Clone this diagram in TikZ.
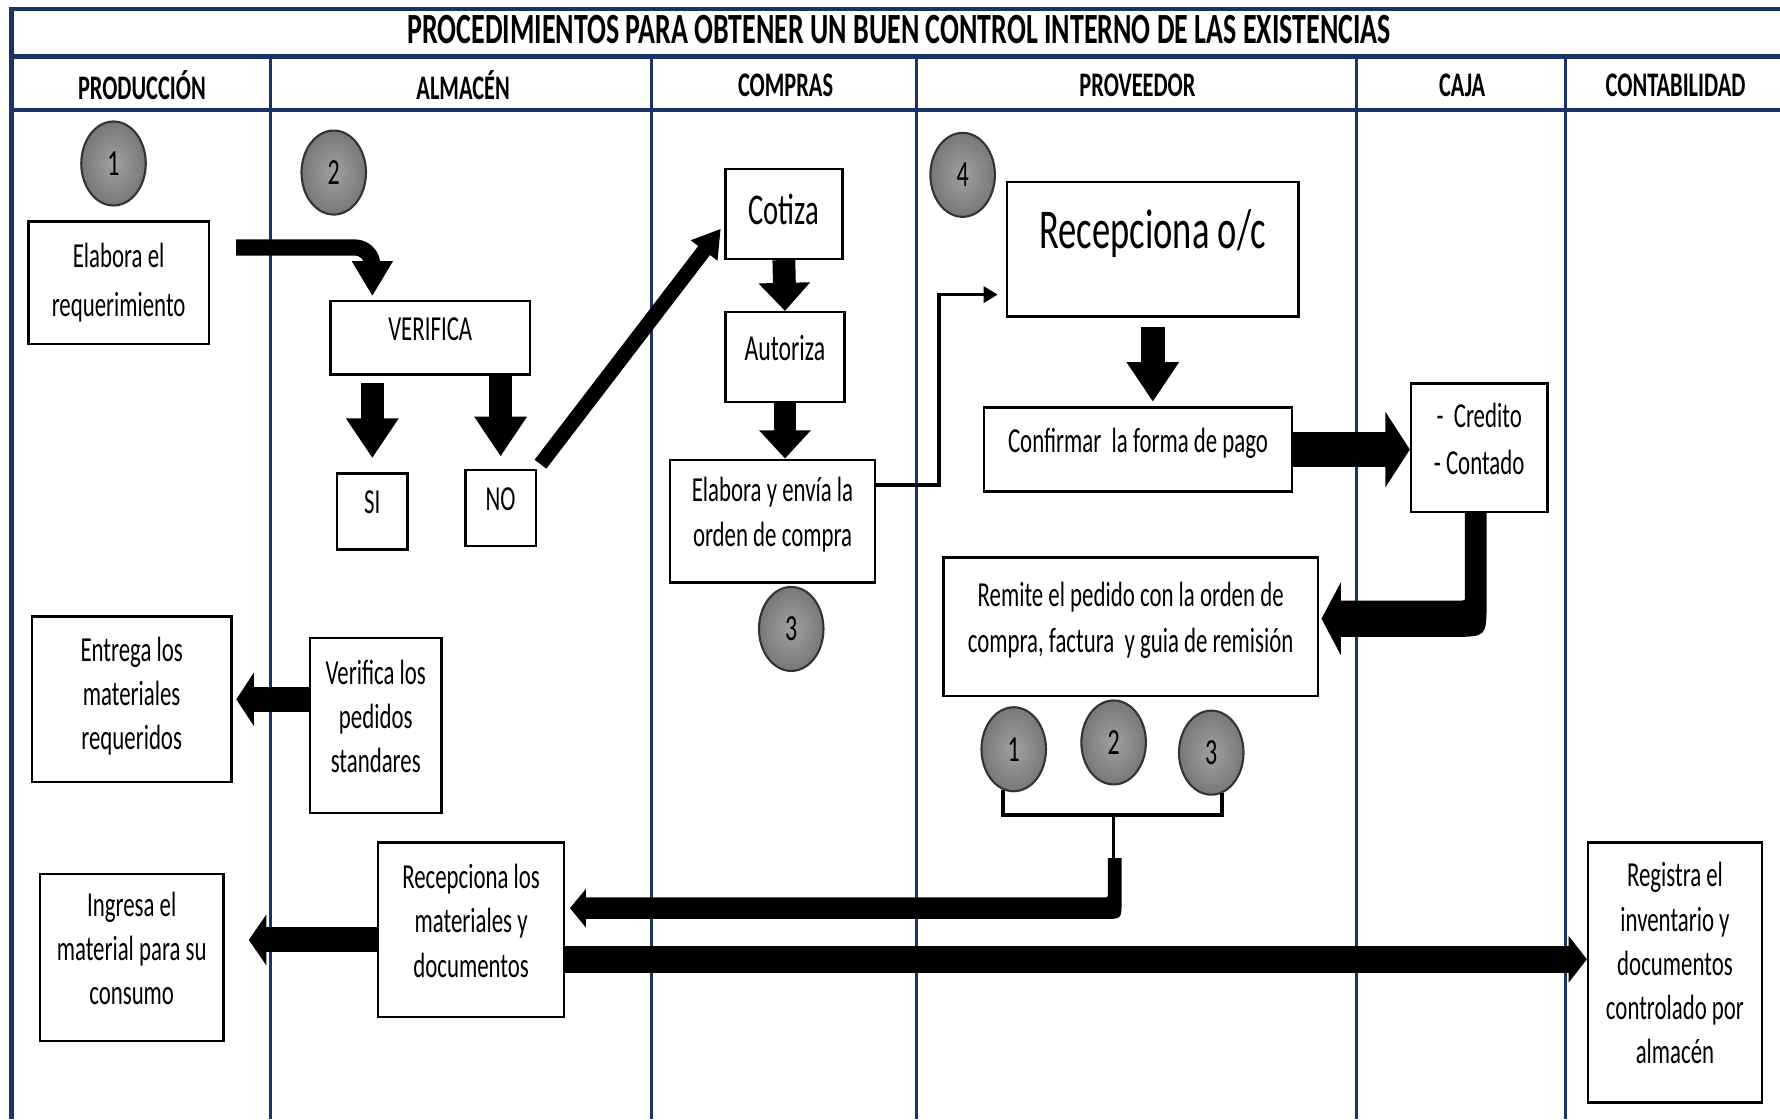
\documentclass[tikz,border=0pt]{standalone}
\usepackage{fontspec}
\setmainfont{Carlito}[FakeStretch=0.65]
\usetikzlibrary{arrows.meta,shapes.geometric,positioning}

\newcommand\liftStrut[1]{\rule[-#1]{0pt}{#1}}

\begin{document}
\begin{tikzpicture}[x=0.011352cm,y=-0.011352cm]
    \definecolor{laneColour}{HTML}{1B3468}
    \definecolor{stepInner}{HTML}{A0A0A0}
    \definecolor{stepOuter}{HTML}{787878}

    \tikzset{
        boxLift/.store in=\boxLift, boxLift=5.2pt,
        procBox/.style={draw=black, line width=0.7pt, fill=white, align=center, inner sep=1pt,
            font=\fontsize{10}{12.6}\selectfont, execute at end node={\liftStrut{\boxLift}}},
        stepCircle/.style={ellipse, draw=black!80, line width=0.6pt, inner color=stepInner, outer color=stepOuter,
            minimum width=0.645cm, minimum height=0.84cm, inner sep=0pt, font=\fontsize{10.5}{12}\selectfont},
        fatArrow/.style n args={3}{line width=#1, -{Triangle[width=#2,length=#3]}},
        thinArrow/.style={line width=1pt, -{Triangle[width=4.5pt,length=4pt]}},
    }

    \useasboundingbox (0,0) rectangle (1568,986);

    % Draw frame, title row and lanes
    \draw[laneColour, line width=1.3pt] (10,986) -- (10,8) -- (1568,8);
    \draw[laneColour, line width=1.3pt] (10,50) -- (1568,50);
    \draw[laneColour, line width=1.3pt] (10,97) -- (1568,97);
    \foreach \x in {238,574,807,1195,1379}
        \draw[laneColour, line width=0.8pt] (\x,50) -- (\x,986);

    % Title and lane names
    \node[font=\bfseries\fontsize{12.25}{14}\selectfont] (title) at (792,26) {PROCEDIMIENTOS PARA OBTENER UN BUEN CONTROL INTERNO DE LAS EXISTENCIAS};
    \foreach \x/\lane [count=\i] in {125/PRODUCCIÓN,408/ALMACÉN,692/COMPRAS,1002/PROVEEDOR,1288/CAJA,1476/CONTABILIDAD}
        \node[font=\bfseries\fontsize{9.8}{12}\selectfont] (lane\i) at (\x,75) {\lane};

    % Step numbers
    \node[stepCircle] (n1) at (100,144) {1};
    \node[stepCircle] (n2) at (294,152) {2};
    \node[stepCircle] (n4) at (848,154) {4};
    \node[stepCircle] (n3) at (697,554) {3};
    \node[stepCircle] (m1) at (893,660) {1};
    \node[stepCircle] (m2) at (981,654) {2};
    \node[stepCircle] (m3) at (1067,663) {3};

    % Process boxes
    \node[procBox, minimum width=1.805cm, minimum height=1.226cm, font=\fontsize{10}{13.9}\selectfont, boxLift=0pt] (req) at (104.5,249) {Elabora el\\requerimiento};
    \node[procBox, minimum width=1.998cm, minimum height=0.738cm] (verif) at (379,297.5) {VERIFICA};
    \node[procBox, minimum width=0.704cm, minimum height=0.761cm] (si) at (328,450.5) {SI};
    \node[procBox, minimum width=0.704cm, minimum height=0.761cm] (no) at (441,447.5) {NO};
    \node[procBox, minimum width=1.317cm, minimum height=1.748cm] (std) at (331,639) {Verifica los\\pedidos\\standares};
    \node[procBox, minimum width=1.998cm, minimum height=1.657cm, boxLift=3.5pt] (entrega) at (116,616) {Entrega los\\materiales\\requeridos};
    \node[procBox, minimum width=1.169cm, minimum height=0.897cm, font=\fontsize{12.5}{14}\selectfont, boxLift=2.6pt] (cotiza) at (690.5,188.5) {Cotiza};
    \node[procBox, minimum width=1.192cm, minimum height=0.897cm, font=\fontsize{10.4}{12}\selectfont] (autoriza) at (691.5,314.5) {Autoriza};
    \node[procBox, minimum width=2.055cm, minimum height=1.226cm] (orden) at (680.5,459) {Elabora y envía la\\orden de compra};
    \node[procBox, minimum width=2.917cm, text height=19pt, text depth=19.3pt, inner sep=0pt, font=\fontsize{16}{18}\selectfont] (recoc) at (1015.5,219.5) {Recepciona o/c};
    \node[procBox, minimum width=3.076cm, minimum height=0.840cm] (pago) at (1002.5,396) {Confirmar~~la forma de pago};
    \node[procBox, minimum width=1.362cm, minimum height=1.283cm, font=\fontsize{10}{13.2}\selectfont] (forma) at (1303,394.5) {-~~Credito\\-~Contado};
    \node[procBox, minimum width=3.746cm, minimum height=1.385cm, font=\fontsize{10}{13.2}\selectfont] (remite) at (996,552) {Remite el pedido con la orden de\\compra, factura~ y guia de remisión};
    \node[procBox, minimum width=1.862cm, minimum height=1.748cm] (recmat) at (415,819) {Recepciona los\\materiales y\\documentos};
    \node[procBox, minimum width=1.839cm, minimum height=1.669cm] (ingresa) at (116,843.5) {Ingresa el\\material para su\\consumo};
    \node[procBox, minimum width=1.737cm, minimum height=2.600cm] (registra) at (1475.5,856.5) {Registra el\\inventario y\\documentos\\controlado por\\almacén};

    % Flow in ALMACEN and COMPRAS
    \draw[fatArrow={4.6pt}{11pt}{10pt}, rounded corners=5pt] ([shift={(23,-31)}]req.east) -| ([shift={(-51,-3)}]verif.north);
    \draw[fatArrow={6.5pt}{14.2pt}{11.3pt}] ([yshift=-2pt]verif.south -| si.north) -- ([yshift=4pt]si.north);
    \draw[fatArrow={6.5pt}{14.2pt}{11.3pt}] (verif.south -| no.north) -- ([yshift=3.5pt]no.north);
    \draw[fatArrow={4.2pt}{9pt}{7.8pt}] ([shift={(3,-4)}]no.north east) -- ([shift={(-3,13)}]cotiza.west);
    \draw[fatArrow={6.5pt}{14.2pt}{8pt}] (cotiza.south) -- (autoriza.south |- autoriza.north);
    \draw[fatArrow={6.5pt}{14.2pt}{8pt}] (autoriza.south) -- (autoriza.south |- orden.north);
    \draw[fatArrow={7pt}{15pt}{5pt}] (std.west |- entrega.east) -- ([xshift=1pt]entrega.east);

    % Flow in PROVEEDOR and CAJA
    \draw[thinArrow] ([shift={(0,-32)}]orden.east) -- ++(55,0) |- ([shift={(-7,40)}]recoc.west);
    \draw[fatArrow={7pt}{14.2pt}{11.3pt}] ([yshift=-2.6pt]recoc.south) -- ([yshift=1.3pt]recoc.south |- pago.north);
    \draw[fatArrow={10pt}{21.3pt}{7pt}] (pago.east) -- (pago.east -| forma.west);

    % Curved block arrow from CAJA back to the supplier
    \coordinate (payTip) at ([shift={(2,-7)}]remite.east);
    \coordinate (payBend) at (forma.south |- payTip);
    \fill ([shift={(-12.5,0)}]forma.south) -- ([shift={(-12.5,-20)}]payBend)
        .. controls ([shift={(-12.5,-16)}]payBend) .. ([shift={(-16.5,-16)}]payBend)
        -- ([shift={(17,-16)}]payTip) -- ([shift={(17,-32)}]payTip) -- (payTip)
        -- ([shift={(17,32)}]payTip) -- ([shift={(17,16)}]payTip) -- ([shift={(-23.5,16)}]payBend)
        .. controls ([shift={(6.5,16)}]payBend) .. ([shift={(6.5,-14)}]payBend)
        -- ([shift={(6.5,0)}]forma.south) -- cycle;

    % Steps 1, 2 and 3 joined back to ALMACEN
    \coordinate (brk) at (981,718);
    \draw[line width=1pt] (m1.255) -- (m1.255 |- brk) -- (m3.285 |- brk) -- (m3.285);
    \draw[line width=0.8pt] (brk) -- ++(0,42) coordinate (stem);
    \coordinate (recTip) at ([shift={(4,-19)}]recmat.east);
    \coordinate (recBend) at (stem |- recTip);
    \fill ([shift={(-5,-4)}]stem) -- ([shift={(-5,-14)}]recBend)
        .. controls ([shift={(-5,-9.5)}]recBend) .. ([shift={(-9,-9.5)}]recBend)
        -- ([shift={(14,-9.5)}]recTip) -- ([shift={(14,-17)}]recTip) -- (recTip)
        -- ([shift={(14,17)}]recTip) -- ([shift={(14,9.5)}]recTip) -- ([shift={(-8,9.5)}]recBend)
        .. controls ([shift={(7,9.5)}]recBend) .. ([shift={(7,-6)}]recBend)
        -- ([shift={(7,-4)}]stem) -- cycle;

    % Materials to PRODUCCION and CONTABILIDAD
    \draw[fatArrow={7.1pt}{14.2pt}{5pt}, shorten >=6.8pt] ([yshift=-2.9pt]recmat.west) -- ([yshift=-2.9pt]recmat.west -| ingresa.east);
    \draw[fatArrow={7.8pt}{13pt}{5.2pt}] ([yshift=-8.4pt]recmat.east) -- ([yshift=-8.4pt]recmat.east -| registra.west);
\end{tikzpicture}
\end{document}
